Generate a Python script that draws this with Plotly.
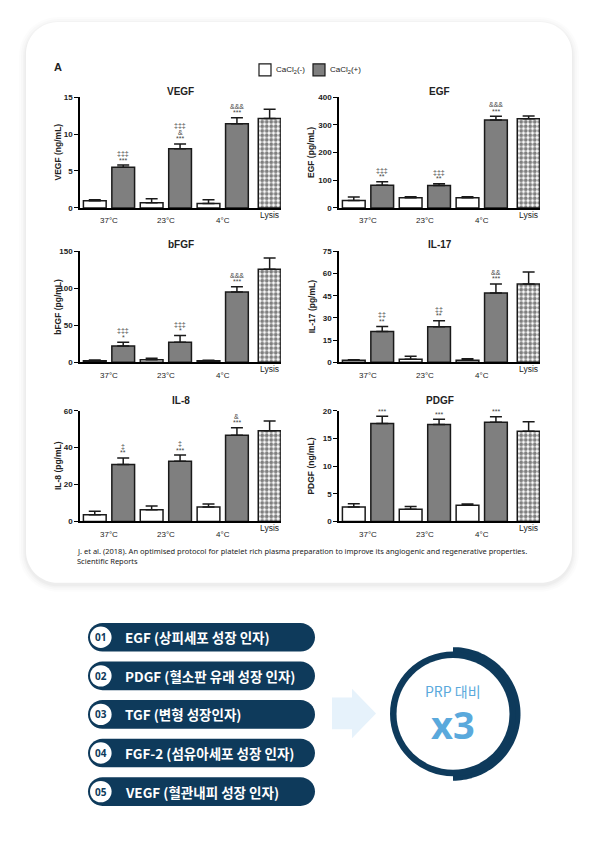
import numpy as np
import plotly.graph_objects as go

W, H = 597, 850
OFF = 8  # the page adds an 8px body margin, so the figure is drawn 8px smaller
FW, FH = W - OFF, H - OFF

# ---------------- data ----------------
groups = ["37°C", "23°C", "4°C"]

vegf_minus = [0.95, 0.7, 0.6]
vegf_minus_err = [0.15, 0.55, 0.5]
vegf_plus = [5.5, 8.0, 11.4]
vegf_plus_err = [0.3, 0.65, 0.8]
vegf_lysis = [12.1]
vegf_lysis_err = [1.25]
vegf_sig = [["***", "‡‡‡"], ["***", "&", "‡‡‡"], ["***", "&&&"]]
vegf_ticks = [0, 5, 10, 15]

egf_minus = [27, 37, 37]
egf_minus_err = [12, 3, 3]
egf_plus = [82, 81, 317]
egf_plus_err = [12, 6, 14]
egf_lysis = [322]
egf_lysis_err = [10]
egf_sig = [["**", "‡‡‡"], ["**", "‡‡‡"], ["***", "&&&"]]
egf_ticks = [0, 100, 200, 300, 400]

bfgf_minus = [2, 3.5, 2]
bfgf_minus_err = [1, 2, 0.8]
bfgf_plus = [22, 27, 95]
bfgf_plus_err = [5, 9, 7]
bfgf_lysis = [126]
bfgf_lysis_err = [15]
bfgf_sig = [["*", "‡‡‡"], ["*", "‡‡‡"], ["***", "&&&"]]
bfgf_ticks = [0, 50, 100, 150]

il17_minus = [1.3, 2.0, 1.3]
il17_minus_err = [0.3, 2.0, 1.1]
il17_plus = [20.8, 24, 46.8]
il17_plus_err = [3.4, 4, 6.2]
il17_lysis = [53]
il17_lysis_err = [8]
il17_sig = [["**", "‡‡"], ["**", "‡‡"], ["***", "&&"]]
il17_ticks = [0, 15, 30, 45, 60, 75]

il8_minus = [3.6, 6.3, 7.9]
il8_minus_err = [2.0, 2.1, 1.6]
il8_plus = [30.8, 32.6, 46.7]
il8_plus_err = [3.6, 3.4, 4.0]
il8_lysis = [49.2]
il8_lysis_err = [5.2]
il8_sig = [["**", "‡"], ["***", "‡"], ["***", "&"]]
il8_ticks = [0, 20, 40, 60]

pdgf_minus = [2.6, 2.2, 2.95]
pdgf_minus_err = [0.6, 0.5, 0.2]
pdgf_plus = [17.7, 17.5, 17.9]
pdgf_plus_err = [1.3, 0.95, 1.0]
pdgf_lysis = [16.3]
pdgf_lysis_err = [1.7]
pdgf_sig = [["***"], ["***"], ["***"]]
pdgf_ticks = [0, 5, 10, 15, 20]

pill_nums = ["01", "02", "03", "04", "05"]
pill_labels = [
    "EGF (상피세포 성장 인자)",
    "PDGF (혈소판 유래 성장 인자)",
    "TGF (변형 성장인자)",
    "FGF-2 (섬유아세포 성장 인자)",
    "VEGF (혈관내피 성장 인자)",
]

panels = [
    dict(title="VEGF", ytitle="VEGF (ng/mL)", minus=vegf_minus, minus_err=vegf_minus_err,
         plus=vegf_plus, plus_err=vegf_plus_err, lysis=vegf_lysis, lysis_err=vegf_lysis_err,
         sig=vegf_sig, ticks=vegf_ticks),
    dict(title="EGF", ytitle="EGF (pg/mL)", minus=egf_minus, minus_err=egf_minus_err,
         plus=egf_plus, plus_err=egf_plus_err, lysis=egf_lysis, lysis_err=egf_lysis_err,
         sig=egf_sig, ticks=egf_ticks),
    dict(title="bFGF", ytitle="bFGF (pg/mL)", minus=bfgf_minus, minus_err=bfgf_minus_err,
         plus=bfgf_plus, plus_err=bfgf_plus_err, lysis=bfgf_lysis, lysis_err=bfgf_lysis_err,
         sig=bfgf_sig, ticks=bfgf_ticks),
    dict(title="IL-17", ytitle="IL-17 (pg/mL)", minus=il17_minus, minus_err=il17_minus_err,
         plus=il17_plus, plus_err=il17_plus_err, lysis=il17_lysis, lysis_err=il17_lysis_err,
         sig=il17_sig, ticks=il17_ticks),
    dict(title="IL-8", ytitle="IL-8 (pg/mL)", minus=il8_minus, minus_err=il8_minus_err,
         plus=il8_plus, plus_err=il8_plus_err, lysis=il8_lysis, lysis_err=il8_lysis_err,
         sig=il8_sig, ticks=il8_ticks),
    dict(title="PDGF", ytitle="PDGF (ng/mL)", minus=pdgf_minus, minus_err=pdgf_minus_err,
         plus=pdgf_plus, plus_err=pdgf_plus_err, lysis=pdgf_lysis, lysis_err=pdgf_lysis_err,
         sig=pdgf_sig, ticks=pdgf_ticks),
]

# ---------------- helpers (page pixel -> paper) ----------------
def px(x):
    return (x - OFF) / FW


def py(y):
    return 1 - (y - OFF) / FH


def rrect(x0, y0, x1, y1, r):
    k = 0.5523 * r
    segs = [
        ("M", [(x0 + r, y0)]),
        ("L", [(x1 - r, y0)]),
        ("C", [(x1 - r + k, y0), (x1, y0 + r - k), (x1, y0 + r)]),
        ("L", [(x1, y1 - r)]),
        ("C", [(x1, y1 - r + k), (x1 - r + k, y1), (x1 - r, y1)]),
        ("L", [(x0 + r, y1)]),
        ("C", [(x0 + r - k, y1), (x0, y1 - r + k), (x0, y1 - r)]),
        ("L", [(x0, y0 + r)]),
        ("C", [(x0, y0 + r - k), (x0 + r - k, y0), (x0 + r, y0)]),
    ]
    s = ""
    for cmd, pts in segs:
        s += cmd + " ".join(f"{px(a):.5f},{py(b):.5f}" for a, b in pts) + " "
    return s + "Z"


def poly(points):
    return "M" + " L".join(f"{px(a):.5f},{py(b):.5f}" for a, b in points) + " Z"


def circle(cx, cy, r, color):
    return dict(type="circle", xref="paper", yref="paper", layer="below",
                x0=px(cx - r), x1=px(cx + r), y0=py(cy + r), y1=py(cy - r),
                fillcolor=color, line=dict(width=0))


def label(text, x, y, size, color="#222", family=None, weight=None, xanchor="center", **kw):
    f = dict(size=size, color=color, family=family or FONT)
    if weight:
        f["weight"] = weight
    d = dict(text=text, xref="paper", yref="paper", x=px(x), y=py(y), showarrow=False,
             xanchor=xanchor, yanchor="middle", font=f)
    d.update(kw)
    return d


NAVY = "#0e3a5b"
LIGHTBLUE = "#5aa9dc"
BAR_LINE = "#1a1a1a"
GRAY = "#7f7f7f"
FONT = "Liberation Sans, Arial, sans-serif"

cols_px = [(80, 281), (339, 540)]
rows_px = [(94, 206), (250, 362), (411, 523)]
title_shift = [6, 7, 10]
x_range = [-0.52, 6.55]

fig = go.Figure()
shapes = []
annotations = []

# ---------------- card background ----------------
card = (26, 18, 572, 585)
for grow, alpha in [(7, 0.010), (5, 0.014), (3, 0.018), (1.5, 0.025)]:
    shapes.append(dict(type="path", xref="paper", yref="paper", layer="below",
                       path=rrect(card[0] - grow, card[1] - grow + 2, card[2] + grow,
                                  card[3] + grow + 2, 32 + grow),
                       fillcolor=f"rgba(0,0,0,{alpha})", line=dict(width=0)))
shapes.append(dict(type="path", xref="paper", yref="paper", layer="below",
                   path=rrect(*card, 32), fillcolor="white", line=dict(width=0)))

# ---------------- bar panels ----------------
n = len(groups)
minus_x = [2 * i for i in range(n)]
plus_x = [2 * i + 1 for i in range(n)]
lysis_x = [2 * n + 0.15]

for idx, p in enumerate(panels):
    r, c = divmod(idx, 2)
    ax = "" if idx == 0 else str(idx + 1)
    xa, ya = "x" + ax, "y" + ax
    x0p, x1p = cols_px[c]
    ytop, ybot = rows_px[r]

    err_style = dict(type="data", symmetric=False, color=BAR_LINE, thickness=1.5, width=6)
    fig.add_trace(go.Bar(
        x=minus_x, y=p["minus"], width=0.8, xaxis=xa, yaxis=ya, showlegend=False,
        marker=dict(color="white", line=dict(color=BAR_LINE, width=1.5)),
        error_y=dict(array=p["minus_err"], arrayminus=[0] * n, **err_style),
        name="CaCl2(-)"))
    fig.add_trace(go.Bar(
        x=plus_x, y=p["plus"], width=0.8, xaxis=xa, yaxis=ya, showlegend=False,
        marker=dict(color=GRAY, line=dict(color=BAR_LINE, width=1.5)),
        error_y=dict(array=p["plus_err"], arrayminus=[0] * n, **err_style),
        name="CaCl2(+)"))
    fig.add_trace(go.Bar(
        x=lysis_x, y=p["lysis"], width=0.8, xaxis=xa, yaxis=ya, showlegend=False,
        marker=dict(color="white", line=dict(color=BAR_LINE, width=1.5),
                    pattern=dict(shape=".", fgcolor="black", bgcolor="white",
                                 size=4.5, solidity=0.6, fillmode="overlay")),
        error_y=dict(array=p["lysis_err"], arrayminus=[0], **err_style),
        name="Lysis"))

    fig.update_layout({
        "xaxis" + ax: dict(domain=[px(x0p), px(x1p)], range=x_range, anchor=ya,
                           showline=True, linecolor="black", linewidth=1.5,
                           showticklabels=False, ticks="", showgrid=False, zeroline=False),
        "yaxis" + ax: dict(domain=[py(ybot), py(ytop)], range=[0, p["ticks"][-1]], anchor=xa,
                           tickvals=p["ticks"], showline=True, linecolor="black", linewidth=1.5,
                           ticks="outside", ticklen=4, tickwidth=1.2, tickcolor="black",
                           tickfont=dict(size=8, family=FONT, color="#222", weight="bold"),
                           showgrid=False, zeroline=False),
    })

    # panel title
    annotations.append(dict(text=p["title"], xref=xa + " domain", yref=ya + " domain",
                            x=0.5, y=1, xanchor="center", yanchor="middle",
                            yshift=title_shift[r], showarrow=False,
                            font=dict(size=10, family=FONT, color="#222", weight="bold")))
    # y axis title
    annotations.append(dict(text=p["ytitle"], xref="paper", yref=ya + " domain",
                            x=px(58 if c == 0 else 311.5), y=0.5, xanchor="center",
                            yanchor="middle", textangle=-90, showarrow=False,
                            font=dict(size=8.5, family=FONT, color="#222", weight="bold")))
    # group lines and labels
    for i, g in enumerate(groups):
        shapes.append(dict(type="line", xref=xa, yref=ya, ysizemode="pixel", yanchor=0,
                           x0=minus_x[i] - 0.28, x1=plus_x[i] + 0.33, y0=-6, y1=-6,
                           line=dict(color="#666", width=1)))
        annotations.append(dict(text=g, xref=xa, yref=ya, x=(minus_x[i] + plus_x[i]) / 2, y=0,
                                xanchor="center", yanchor="middle", yshift=-13, showarrow=False,
                                font=dict(size=8, family=FONT, color="#222")))
    annotations.append(dict(text="Lysis", xref=xa, yref=ya, x=lysis_x[0], y=0,
                            xanchor="center", yanchor="middle", yshift=-7, showarrow=False,
                            font=dict(size=8.5, family=FONT, color="#222")))
    # significance marks
    for i, marks in enumerate(p["sig"]):
        for k, m in enumerate(marks):
            annotations.append(dict(text=m, xref=xa, yref=ya, x=plus_x[i],
                                    y=p["plus"][i] + p["plus_err"][i],
                                    xanchor="center", yanchor="middle",
                                    yshift=5 + 6.5 * k, showarrow=False,
                                    font=dict(size=7, family=FONT, color="#444")))

# ---------------- figure-level labels ----------------
annotations.append(label("A", 58, 64, 11, weight="bold"))

for x0, fill, text in [(259, "white", "CaCl<sub>2</sub>(-)"), (313, GRAY, "CaCl<sub>2</sub>(+)")]:
    shapes.append(dict(type="rect", xref="paper", yref="paper", layer="above",
                       x0=px(x0), x1=px(x0 + 12), y0=py(72.5), y1=py(60.5),
                       fillcolor=fill, line=dict(color=BAR_LINE, width=1.2)))
    annotations.append(label(text, x0 + 15, 66.5, 8, xanchor="left"))

cite = ["J. et al. (2018). An optimised protocol for platelet rich plasma preparation to improve its angiogenic and regenerative properties.",
        "Scientific Reports"]
for i, line in enumerate(cite):
    annotations.append(label(line, 75, 553 + 10 * i, 7.5, color="#222",
                             family="Noto Sans, sans-serif", xanchor="left"))

# ---------------- growth factor list ----------------
for i, (num, text) in enumerate(zip(pill_nums, pill_labels)):
    cy = 640 + 39 * i
    shapes.append(dict(type="path", xref="paper", yref="paper", layer="below",
                       path=rrect(88, cy - 14.5, 315, cy + 14.5, 14.5),
                       fillcolor=NAVY, line=dict(width=0)))
    shapes.append(circle(100.8, cy, 10.8, "white"))
    annotations.append(label(num, 100.8, cy, 10, color=NAVY,
                             family="Noto Sans, sans-serif", weight="bold"))
    annotations.append(label(text, 123, cy, 13.5, color="white",
                             family="Noto Sans CJK KR", weight="bold", xanchor="left"))

# arrow
shapes.append(dict(type="path", xref="paper", yref="paper", layer="below",
                   path=poly([(332, 701), (352, 701), (352, 692), (376, 717),
                              (352, 742), (352, 733), (332, 733)]),
                   fillcolor="#e6f2fb", line=dict(width=0)))

# ring
cx, cy = 453, 717.5
t = np.linspace(-np.pi / 2, np.pi / 2, 80)
half = [(cx + 67.5 * np.cos(a), cy + 67.5 * np.sin(a)) for a in t]
shapes.append(dict(type="path", xref="paper", yref="paper", layer="below",
                   path=poly(half), fillcolor=NAVY, line=dict(width=0)))
shapes.append(circle(cx, cy, 63, NAVY))
shapes.append(circle(cx, cy, 56.5, "white"))
annotations.append(label("PRP 대비", 453, 694, 14, color=LIGHTBLUE, family="Noto Sans CJK KR"))
annotations.append(label("x3", 453, 727.5, 38, color=LIGHTBLUE,
                         family="Noto Sans, sans-serif", weight="bold"))

fig.update_layout(
    width=FW, height=FH,
    margin=dict(l=0, r=0, t=0, b=0),
    paper_bgcolor="white", plot_bgcolor="rgba(0,0,0,0)",
    barmode="overlay",
    font=dict(family=FONT, color="#222"),
    shapes=shapes, annotations=annotations,
    showlegend=False,
)

fig.write_html("out.html")
